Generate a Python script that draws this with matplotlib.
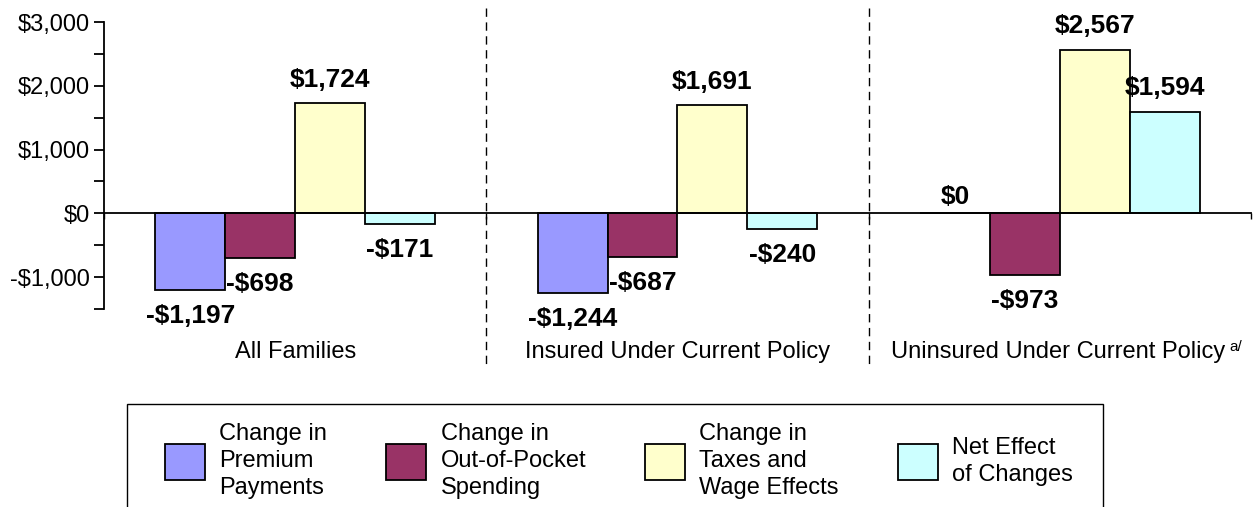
import matplotlib
matplotlib.use("Agg")
import matplotlib.pyplot as plt
import matplotlib.transforms as mtransforms
from matplotlib.patches import Rectangle
from matplotlib.ticker import MultipleLocator, FuncFormatter
import numpy as np

plt.rcParams['font.family'] = ['Liberation Sans', 'DejaVu Sans']

categories = ["All Families", "Insured Under Current Policy", "Uninsured Under Current Policy"]
series_names = ["Change in\nPremium\nPayments", "Change in\nOut-of-Pocket\nSpending",
                "Change in\nTaxes and\nWage Effects", "Net Effect\nof Changes"]
premium = [-1197, -1244, 0]
out_of_pocket = [-698, -687, -973]
taxes_wages = [1724, 1691, 2567]
net_effect = [-171, -240, 1594]
series_values = [premium, out_of_pocket, taxes_wages, net_effect]
colors = ["#9999FF", "#993366", "#FFFFCC", "#CCFFFF"]

W, H = 1254, 507
fig = plt.figure(figsize=(W / 100, H / 100), dpi=100)
ax = fig.add_axes([104 / W, 1 - 309 / H, (1251 - 104) / W, (309 - 22) / H])

x = np.arange(len(categories))
bw = 0.183
offsets = (np.arange(4) - 1.5) * bw
containers = []
for i, (vals, col, name) in enumerate(zip(series_values, colors, series_names)):
    bc = ax.bar(x + offsets[i], vals, bw, color=col, edgecolor="black", linewidth=1.3,
                label=name, zorder=2)
    containers.append(bc)
    for xi, v in zip(x + offsets[i], vals):
        lab = ("-$" if v < 0 else "$") + f"{abs(v):,}"
        if v > 0:
            dy = 17
        elif v == 0:
            dy = 12
        else:
            dy = -18.7
        ax.annotate(lab, (xi, v), xytext=(0, dy), textcoords="offset points",
                    ha="center", va="center", fontsize=19, fontweight="bold")

ax.set_xlim(-0.5, 2.5)
ax.set_ylim(-1500, 3000)

for s in ["top", "right"]:
    ax.spines[s].set_visible(False)
ax.spines["bottom"].set_position(("data", 0))
ax.spines["bottom"].set_linewidth(1.3)
ax.spines["left"].set_linewidth(1.3)

ax.set_xticks([-0.5, 0.5, 1.5, 2.5])
ax.set_xticklabels([])
ax.tick_params(axis="x", direction="out", length=4, width=1.0)
ax.yaxis.set_major_locator(MultipleLocator(1000))
ax.yaxis.set_minor_locator(MultipleLocator(500))
ax.yaxis.set_major_formatter(FuncFormatter(lambda v, p: ("-$" if v < 0 else "$") + f"{abs(int(v)):,}"))
ax.tick_params(axis="y", which="both", direction="out", length=7, width=1.3, labelsize=17, pad=3)

trans = mtransforms.blended_transform_factory(ax.transData, ax.transAxes)
for b in [0.5, 1.5]:
    ax.plot([b, b], [1.049, -0.195], transform=trans, clip_on=False, color="black",
            linestyle=(0, (6, 4)), linewidth=1.0)

lab_y = -(352 - 309) / 287
for i, c in enumerate(categories):
    xo = -0.005 if i == 2 else 0
    t = ax.text(x[i] + xo, lab_y, c, transform=trans, ha="center", va="center", fontsize=17)
    if i == 2:
        ax.annotate("a/", xy=(1, 1), xycoords=t, xytext=(3, 1), textcoords="offset points",
                    ha="left", va="top", fontsize=11)

# legend frame
fig.patches.append(Rectangle((127 / W, -0.1), (1103 - 127) / W, 1 - 404 / H + 0.1,
                             transform=fig.transFigure, fill=False, edgecolor="black",
                             linewidth=1.0))
leg = fig.legend(handles=containers, labels=series_names, ncol=4, loc="upper left",
                 bbox_to_anchor=(165 / W, 1 - 423 / H), frameon=False, fontsize=17,
                 handlelength=1.7, handleheight=2.0, handletextpad=0.6,
                 columnspacing=2.5, borderpad=0, borderaxespad=0)
for t in leg.get_texts():
    t.set_linespacing(1.3)

fig.savefig("out.png", dpi=100)
